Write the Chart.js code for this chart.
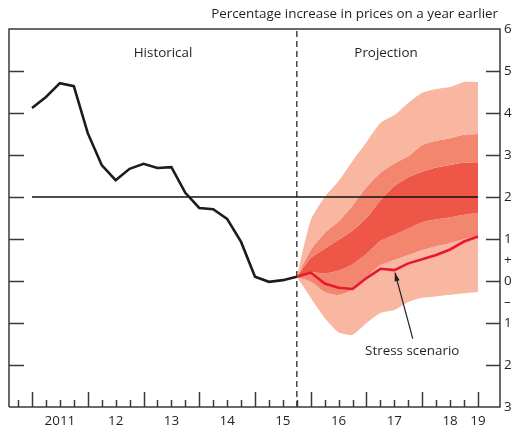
<!DOCTYPE html>
<html>
<head>
<meta charset="utf-8">
<script src="https://cdn.jsdelivr.net/npm/chart.js@4.4.1/dist/chart.umd.min.js"></script>
<style>
  html, body { margin: 0; padding: 0; background: #fff; }
  canvas { display: block; }
</style>
</head>
<body>
<canvas id="fanChart" width="517" height="430" style="width:517px;height:430px"></canvas>
<script>
// ---- data ----
const histQuarters = [2011.0, 2011.25, 2011.5, 2011.75, 2012.0, 2012.25, 2012.5, 2012.75,
  2013.0, 2013.25, 2013.5, 2013.75, 2014.0, 2014.25, 2014.5, 2014.75, 2015.0, 2015.25, 2015.5, 2015.75];
const histValues = [4.12, 4.38, 4.71, 4.64, 3.52, 2.76, 2.40, 2.67, 2.79, 2.69, 2.71, 2.10,
  1.74, 1.71, 1.48, 0.93, 0.10, -0.02, 0.02, 0.10];

const projQuarters = [2015.75, 2016.0, 2016.25, 2016.5, 2016.75, 2017.0, 2017.25, 2017.5,
  2017.75, 2018.0, 2018.25, 2018.5, 2018.75, 2019.0];
const stressValues = [0.10, 0.20, -0.06, -0.16, -0.19, 0.07, 0.29, 0.26, 0.42, 0.52, 0.62, 0.75, 0.94, 1.06];

// fan band edges, outer to inner
const outerUpper = [0.10, 1.45, 2.00, 2.38, 2.86, 3.31, 3.76, 3.95, 4.24, 4.48, 4.57, 4.62, 4.74, 4.74];
const middleUpper = [0.10, 0.74, 1.14, 1.42, 1.80, 2.24, 2.58, 2.80, 2.97, 3.24, 3.34, 3.40, 3.48, 3.50];
const innerUpper = [0.10, 0.55, 0.77, 0.98, 1.20, 1.50, 1.92, 2.26, 2.47, 2.60, 2.70, 2.76, 2.82, 2.83];
const innerLower = [0.10, 0.20, 0.18, 0.25, 0.40, 0.65, 0.95, 1.10, 1.25, 1.40, 1.47, 1.52, 1.58, 1.62];
const middleLower = [0.10, -0.02, -0.26, -0.33, -0.20, 0.10, 0.38, 0.50, 0.62, 0.74, 0.83, 0.90, 1.00, 1.08];
const outerLower = [0.10, -0.40, -0.88, -1.22, -1.28, -1.00, -0.76, -0.69, -0.50, -0.40, -0.37, -0.33, -0.29, -0.26];

const targetRate = 2;
const targetSpan = [2011.0, 2019.0];
const projectionStart = 2015.75;

const yTicks = [6, 5, 4, 3, 2, 1, 0, -1, -2, -3];
const yLabels = ['6', '5', '4', '3', '2', '1', '0', '1', '2', '3'];
const years = [2011, 2012, 2013, 2014, 2015, 2016, 2017, 2018, 2019];
const yearLabels = ['2011', '12', '13', '14', '15', '16', '17', '18', '19'];

const pts = (xs, ys) => xs.map((x, i) => ({ x, y: ys[i] }));

const LIGHT = '#f9b7a1', MID = '#f3866e', DARK = '#ee5647';
const INK = '#231f20';
const FONT = '"Open Sans", "Noto Sans", sans-serif';

function band(data, color) {
  return { data, fill: '+1', backgroundColor: color, borderWidth: 0, pointRadius: 0, tension: 0.2, order: 5 };
}

// frame, ticks and all text
const furniture = {
  id: 'furniture',
  afterDatasetsDraw(chart) {
    const { ctx, chartArea: a, scales: { x, y } } = chart;
    ctx.save();
    ctx.strokeStyle = '#3a3a3a';
    ctx.lineWidth = 1.5;
    ctx.beginPath();
    ctx.moveTo(a.left, a.bottom); ctx.lineTo(a.left, a.top);
    ctx.lineTo(a.right, a.top); ctx.lineTo(a.right, a.bottom);
    ctx.lineTo(a.left, a.bottom);
    ctx.stroke();

    // y ticks, inside on both sides
    yTicks.forEach(v => {
      if (v === 6 || v === -3) return;
      const py = Math.round(y.getPixelForValue(v)) + 0.5;
      ctx.beginPath();
      ctx.moveTo(a.left, py); ctx.lineTo(a.left + 15, py);
      ctx.moveTo(a.right - 14, py); ctx.lineTo(a.right, py);
      ctx.stroke();
    });

    // x ticks: years tall, quarters short
    years.forEach(yr => {
      [0, 0.25, 0.5, 0.75].forEach(d => {
        if (yr === 2019 && d > 0) return;
        const px = Math.round(x.getPixelForValue(yr + d)) + 0.5;
        const h = d === 0 ? 15 : 7;
        ctx.beginPath(); ctx.moveTo(px, a.bottom); ctx.lineTo(px, a.bottom - h); ctx.stroke();
      });
    });
    // quarter tick before 2011
    const p0 = Math.round(x.getPixelForValue(2010.75)) + 0.5;
    ctx.beginPath(); ctx.moveTo(p0, a.bottom); ctx.lineTo(p0, a.bottom - 7); ctx.stroke();

    ctx.fillStyle = INK;
    ctx.font = '13.4px ' + FONT;
    ctx.textBaseline = 'middle';
    ctx.textAlign = 'left';
    yTicks.forEach((v, i) => {
      ctx.fillText(yLabels[i], a.right + 4, y.getPixelForValue(v));
    });
    ctx.fillText('+', a.right + 4, y.getPixelForValue(0.5));
    ctx.fillText('\u2013', a.right + 4, y.getPixelForValue(-0.5));

    ctx.textAlign = 'center';
    years.forEach((yr, i) => {
      const cx = yr === 2019 ? x.getPixelForValue(yr) : x.getPixelForValue(yr + 0.5);
      ctx.fillText(yearLabels[i], cx, a.bottom + 14);
    });

    ctx.textAlign = 'right';
    ctx.fillText('Percentage increase in prices on a year earlier', a.right - 2, 14);

    ctx.textAlign = 'center';
    ctx.fillText('Historical', x.getPixelForValue(2013.35), y.getPixelForValue(5.43));
    ctx.fillText('Projection', x.getPixelForValue(2017.35), y.getPixelForValue(5.43));
    ctx.fillText('Stress scenario', x.getPixelForValue(2017.82), y.getPixelForValue(-1.68));

    // arrow to stress line
    const tx = x.getPixelForValue(2017.51), ty = y.getPixelForValue(0.2);
    const sx = x.getPixelForValue(2017.83), sy = y.getPixelForValue(-1.37);
    ctx.strokeStyle = INK; ctx.lineWidth = 1.2;
    ctx.beginPath(); ctx.moveTo(sx, sy); ctx.lineTo(tx, ty); ctx.stroke();
    const ang = Math.atan2(ty - sy, tx - sx);
    ctx.beginPath();
    ctx.moveTo(tx, ty);
    ctx.lineTo(tx - 9 * Math.cos(ang - 0.3), ty - 9 * Math.sin(ang - 0.3));
    ctx.lineTo(tx - 9 * Math.cos(ang + 0.3), ty - 9 * Math.sin(ang + 0.3));
    ctx.closePath(); ctx.fill();
    ctx.restore();
  }
};

new Chart(document.getElementById('fanChart'), {
  type: 'line',
  data: {
    datasets: [
      { data: pts(histQuarters, histValues), borderColor: '#1c1c1c', borderWidth: 2.6, pointRadius: 0, tension: 0, fill: false, order: 0 },
      { data: pts(projQuarters, stressValues), borderColor: '#e8182e', borderWidth: 2.6, pointRadius: 0, tension: 0, fill: false, order: 0 },
      { data: pts(targetSpan, [targetRate, targetRate]), borderColor: '#111', borderWidth: 1.4, pointRadius: 0, fill: false, order: 1 },
      { data: pts([projectionStart, projectionStart], [-3, 6]), borderColor: '#444', borderWidth: 1.5, borderDash: [6, 4], pointRadius: 0, fill: false, order: 1 },
      band(pts(projQuarters, outerUpper), LIGHT),
      band(pts(projQuarters, middleUpper), MID),
      band(pts(projQuarters, innerUpper), DARK),
      band(pts(projQuarters, innerLower), MID),
      band(pts(projQuarters, middleLower), LIGHT),
      { data: pts(projQuarters, outerLower), fill: false, borderWidth: 0, pointRadius: 0, tension: 0.2, order: 5 }
    ]
  },
  options: {
    responsive: false,
    animation: false,
    layout: { padding: { left: 9, top: 29, right: 17, bottom: 23 } },
    plugins: { legend: { display: false }, tooltip: { enabled: false } },
    scales: {
      x: { type: 'linear', display: false, min: 2010.587, max: 2019.395 },
      y: { type: 'linear', display: false, min: -3, max: 6 }
    }
  },
  plugins: [furniture]
});
</script>
</body>
</html>
